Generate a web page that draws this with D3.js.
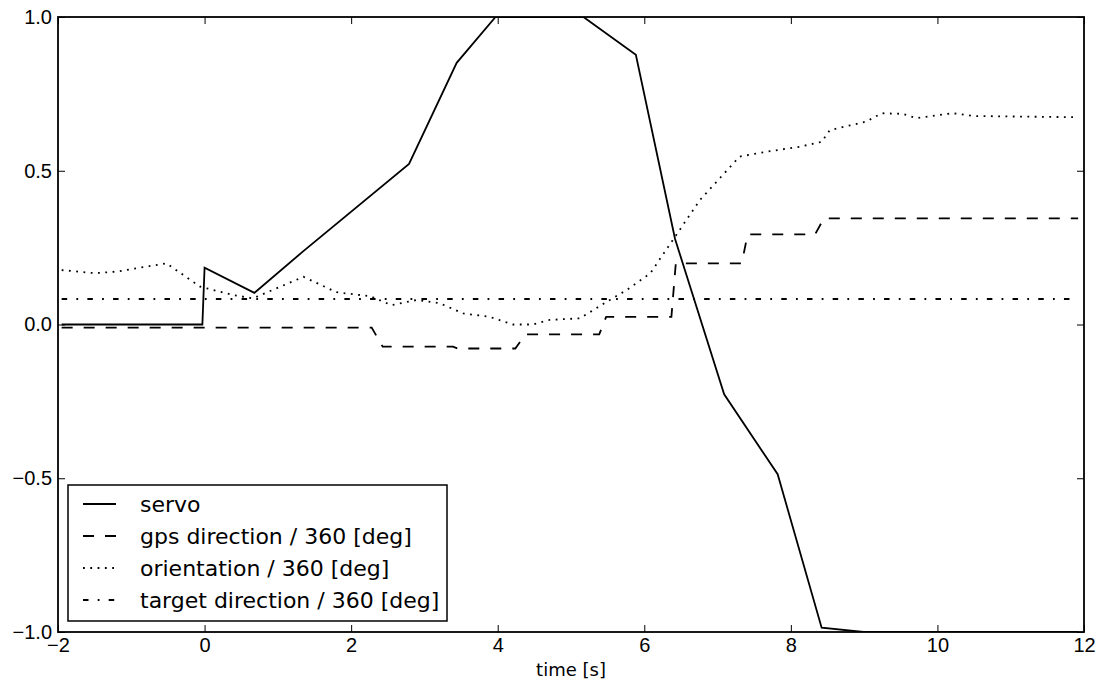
<!DOCTYPE html>
<html>
<head>
<meta charset="utf-8">
<script src="https://d3js.org/d3.v7.min.js"></script>
<style>
  body { margin: 0; background: #fff; }
  svg { font-family: "DejaVu Sans", sans-serif; }
</style>
</head>
<body>
<div class="chart"></div>
<script>
// series, [time s, value]
const servo = [
  [-1.95, 0], [-0.03, 0], [0.0, 0.185], [0.68, 0.103], [1.34, 0.237],
  [2.79, 0.522], [3.44, 0.851], [3.97, 1.0], [5.17, 1.0], [5.885, 0.877],
  [6.42, 0.278], [7.09, -0.227], [7.82, -0.487], [8.42, -0.986], [8.99, -1.0],
  [11.92, -1.0]
];
const gps = [
  [-1.95, -0.01], [2.28, -0.01], [2.43, -0.072], [3.39, -0.072], [3.45, -0.078],
  [4.24, -0.078], [4.38, -0.032], [5.385, -0.032], [5.48, 0.025], [6.37, 0.025],
  [6.43, 0.199], [7.33, 0.199], [7.41, 0.293], [8.33, 0.293], [8.45, 0.345],
  [11.92, 0.345]
];
const orientation = [
  [-1.95, 0.177], [-1.5, 0.167], [-1.2, 0.172], [-0.52, 0.199], [-0.06, 0.123],
  [0.39, 0.096], [0.66, 0.085], [1.35, 0.155], [1.8, 0.105], [2.26, 0.092],
  [2.55, 0.063], [2.9, 0.08], [3.21, 0.069], [3.53, 0.036], [3.89, 0.025],
  [4.21, 0.0], [4.48, 0.0], [4.71, 0.015], [5.12, 0.02], [5.53, 0.08],
  [5.76, 0.112], [6.08, 0.166], [6.39, 0.275], [6.76, 0.405], [7.3, 0.546],
  [7.67, 0.562], [8.12, 0.578], [8.42, 0.594], [8.53, 0.632], [9.03, 0.66],
  [9.24, 0.687], [9.53, 0.685], [9.71, 0.671], [10.21, 0.687], [10.49, 0.678],
  [11.92, 0.674]
];
const target = [[-1.95, 0.083], [11.92, 0.083]];

const xTicks = [-2, 0, 2, 4, 6, 8, 10, 12];
const yTicks = [-1.0, -0.5, 0.0, 0.5, 1.0];
const labels = ["servo", "gps direction / 360 [deg]", "orientation / 360 [deg]", "target direction / 360 [deg]"];

const margin = { top: 17, right: 18, bottom: 50, left: 58 };
const W = 1102, H = 682;
const width = W - margin.left - margin.right;
const height = H - margin.top - margin.bottom;

const svg = d3.select(".chart").append("svg")
  .attr("width", W)
  .attr("height", H);

const g = svg.append("g")
  .attr("transform", `translate(${margin.left},${margin.top})`);

const x = d3.scaleLinear().domain([-2, 12]).range([0, width]);
const y = d3.scaleLinear().domain([-1, 1]).range([height, 0]);

g.append("clipPath").attr("id", "clip")
  .append("rect").attr("width", width).attr("height", height);

const line = d3.line().x(d => x(d[0])).y(d => y(d[1]));

const styles = [
  { data: servo, dash: null },
  { data: gps, dash: "11,11" },
  { data: orientation, dash: "1.8,5.5" },
  { data: target, dash: "5.5,9.2,1.8,9.2" }
];

const plot = g.append("g").attr("clip-path", "url(#clip)");
styles.forEach(s => {
  plot.append("path")
    .datum(s.data)
    .attr("d", line)
    .attr("fill", "none")
    .attr("stroke", "#000")
    .attr("stroke-width", 1.8)
    .attr("stroke-dasharray", s.dash);
});

const fmtX = d => d < 0 ? "\u2212" + Math.abs(d) : String(d);
const fmtY = d => (d < 0 ? "\u2212" : "") + Math.abs(d).toFixed(1);

// axes: ticks point inward on all sides
const tickLen = 7;
g.append("g")
  .attr("transform", `translate(0,${height})`)
  .call(d3.axisBottom(x).tickValues(xTicks).tickFormat(fmtX).tickSizeInner(-tickLen).tickSizeOuter(0).tickPadding(6))
  .call(a => a.select(".domain").remove());
g.append("g")
  .call(d3.axisTop(x).tickValues(xTicks).tickFormat("").tickSizeInner(-tickLen).tickSizeOuter(0))
  .call(a => a.select(".domain").remove());
g.append("g")
  .call(d3.axisLeft(y).tickValues(yTicks).tickFormat(fmtY).tickSizeInner(-tickLen).tickSizeOuter(0).tickPadding(6))
  .call(a => a.select(".domain").remove());
g.append("g")
  .attr("transform", `translate(${width},0)`)
  .call(d3.axisRight(y).tickValues(yTicks).tickFormat("").tickSizeInner(-tickLen).tickSizeOuter(0))
  .call(a => a.select(".domain").remove());

g.selectAll(".tick line").attr("stroke", "#000").attr("stroke-width", 1);
g.selectAll(".tick text").style("font-size", "20px").attr("fill", "#000");

g.append("rect")
  .attr("width", width)
  .attr("height", height)
  .attr("fill", "none")
  .attr("stroke", "#000")
  .attr("stroke-width", 1.8);

g.append("text")
  .attr("x", width / 2)
  .attr("y", height + 44)
  .attr("text-anchor", "middle")
  .style("font-size", "18px")
  .text("time [s]");

// legend
const legend = svg.append("g").attr("transform", "translate(68,485)");
legend.append("rect")
  .attr("width", 379)
  .attr("height", 136)
  .attr("fill", "#fff")
  .attr("stroke", "#000")
  .attr("stroke-width", 1.5);

const rows = legend.selectAll("g.row")
  .data(labels)
  .enter().append("g")
  .attr("class", "row")
  .attr("transform", (d, i) => `translate(0,${19 + i * 32})`);

rows.append("line")
  .attr("x1", 15).attr("x2", 48)
  .attr("stroke", "#000")
  .attr("stroke-width", 1.8)
  .attr("stroke-dasharray", (d, i) => styles[i].dash);

rows.append("text")
  .attr("x", 72)
  .attr("dy", "0.35em")
  .style("font-size", "22px")
  .text(d => d);
</script>
</body>
</html>
